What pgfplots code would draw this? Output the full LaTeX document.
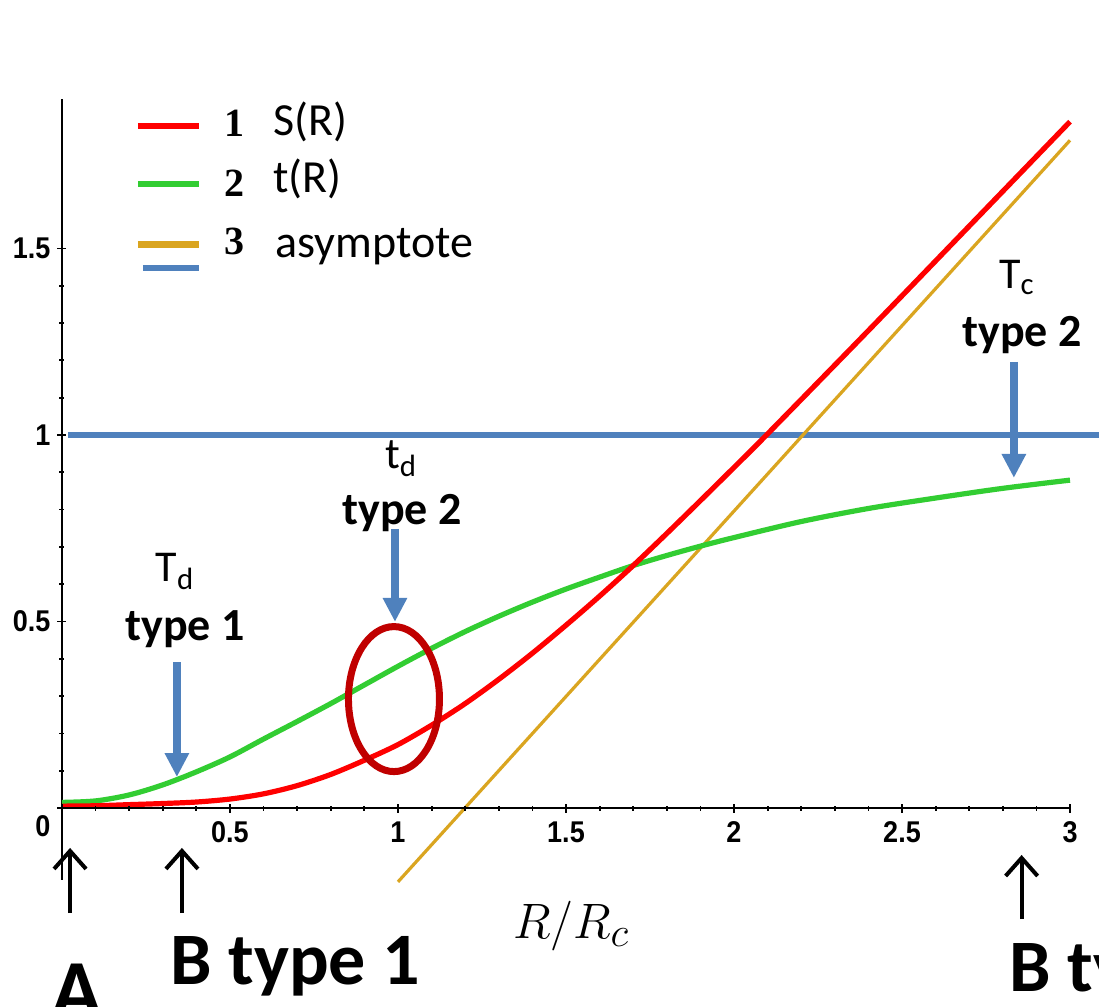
\documentclass[border=0pt]{standalone}
\usepackage{fontspec}
\setmainfont{Carlito}
\newfontfamily\tickfont[FakeStretch=0.9]{Liberation Sans}
\newfontfamily\numfont{Liberation Serif}
\usepackage{pgfplots}
\usepackage{pgfplotstable}
\pgfplotsset{compat=1.18}
\usetikzlibrary{arrows.meta}
\definecolor{cRed}{RGB}{255,0,0}
\definecolor{cGreen}{RGB}{50,205,50}
\definecolor{cGold}{RGB}{218,165,32}
\definecolor{cBlue}{RGB}{79,129,189}
\definecolor{cEll}{RGB}{192,0,0}

\pgfplotstableread{
x y
0.0 0.005
0.1 0.006
0.2 0.009
0.3 0.012
0.4 0.016
0.5 0.024
0.6 0.038
0.7 0.060
0.8 0.090
0.9 0.128
1.0 0.170
1.1 0.222
1.2 0.280
1.3 0.345
1.4 0.415
1.5 0.490
1.6 0.568
1.7 0.650
1.8 0.736
1.9 0.824
2.0 0.913
2.1 1.003
2.4 1.280
2.7 1.560
3.0 1.840
}\Sdata

\pgfplotstableread{
x y
0.0 0.015
0.1 0.019
0.2 0.035
0.3 0.062
0.4 0.097
0.5 0.137
0.6 0.185
0.7 0.232
0.8 0.280
0.9 0.330
1.0 0.380
1.1 0.428
1.2 0.473
1.3 0.514
1.4 0.552
1.5 0.587
1.6 0.619
1.7 0.650
1.8 0.677
1.9 0.702
2.0 0.725
2.2 0.768
2.4 0.803
2.6 0.831
2.8 0.857
3.0 0.879
}\Tdata

\pgfplotstableread{
x y
1.0 -0.198
3.0 1.790
}\Adata

\pgfplotstableread{
x y
0.018 1
3.12 1
}\Hdata

\pgfplotsset{
  mystyle/.style={
    scale only axis, width=504pt,
    xmin=0, xmax=3,
    clip=false,
    tick align=outside,
    major tick length=4.5pt, minor tick length=2.5pt,
    every tick/.style={black, line width=0.9pt},
    tick label style={font=\tickfont\bfseries\fontsize{15}{15}\selectfont},
    /pgf/number format/assume math mode=true,
  }
}

\begin{document}
\begin{tikzpicture}
\begin{axis}[
  mystyle, height=390.34pt,
  ymin=-0.193, ymax=1.9,
  axis y line=left, axis x line=none,
  axis line style={-, line width=1.1pt, black},
  ytick={0,0.5,1,1.5}, yticklabels={,0.5,1,1.5},
  extra y ticks={0}, extra y tick labels={0},
  extra y tick style={yticklabel style={yshift=-9pt}},
  minor y tick num=4,
]
\addplot[cBlue, line width=3pt] table {\Hdata};
\addplot[cGold, line width=1.6pt] table {\Adata};
\addplot[cGreen, line width=2.6pt, smooth] table {\Tdata};
\addplot[cRed, line width=2.6pt, smooth] table {\Sdata};

% legend
\draw[cRed, line width=3.3pt] (axis cs:0.226,1.828) -- (axis cs:0.408,1.828);
\draw[cGreen, line width=3.3pt] (axis cs:0.226,1.673) -- (axis cs:0.408,1.673);
\draw[cGold, line width=3.3pt] (axis cs:0.226,1.511) -- (axis cs:0.408,1.511);
\draw[cBlue, line width=3pt] (axis cs:0.241,1.448) -- (axis cs:0.408,1.448);
\node[anchor=base, inner sep=0, font=\numfont\bfseries\fontsize{20}{20}\selectfont] at (axis cs:0.512,1.799) {1};
\node[anchor=base, inner sep=0, font=\numfont\bfseries\fontsize{20}{20}\selectfont] at (axis cs:0.512,1.639) {2};
\node[anchor=base, inner sep=0, font=\numfont\bfseries\fontsize{20}{20}\selectfont] at (axis cs:0.512,1.483) {3};
\node[anchor=base west, inner sep=0, font=\fontsize{23}{23}\selectfont] at (axis cs:0.628,1.804) {S(R)};
\node[anchor=base west, inner sep=0, font=\fontsize{23}{23}\selectfont] at (axis cs:0.628,1.649) {t(R)};
\node[anchor=base west, inner sep=0, font=\fontsize{23}{23}\selectfont] at (axis cs:0.634,1.477) {asymptote};

% annotations
\node[anchor=base, inner sep=0, font=\fontsize{22}{22}\selectfont] at (axis cs:0.336,0.606) {T\textsubscript{d}};
\node[anchor=base, inner sep=0, font=\bfseries\fontsize{23}{23}\selectfont] at (axis cs:0.366,0.450) {type 1};
\node[anchor=base, inner sep=0, font=\fontsize{22}{22}\selectfont] at (axis cs:1.009,0.909) {t\textsubscript{d}};
\node[anchor=base, inner sep=0, font=\bfseries\fontsize{23}{23}\selectfont] at (axis cs:1.012,0.759) {type 2};
\node[anchor=base, inner sep=0, font=\fontsize{22}{22}\selectfont] at (axis cs:2.842,1.394) {T\textsubscript{c}};
\node[anchor=base, inner sep=0, font=\bfseries\fontsize{23}{23}\selectfont] at (axis cs:2.857,1.236) {type 2};

\draw[cBlue, line width=4pt, -{Triangle[width=11.5pt,length=12pt]}] (axis cs:0.342,0.391) -- (axis cs:0.342,0.083);
\draw[cBlue, line width=4pt, -{Triangle[width=11.5pt,length=12pt]}] (axis cs:0.991,0.748) -- (axis cs:0.991,0.499);
\draw[cBlue, line width=4pt, -{Triangle[width=11.5pt,length=12pt]}] (axis cs:2.833,1.196) -- (axis cs:2.833,0.885);

\draw[cEll, line width=3.5pt] (axis cs:0.988,0.292) ellipse [x radius=22.75pt, y radius=36.25pt];

\draw[black, line width=2pt, -{Straight Barb[length=9pt,width=16pt]}] (axis cs:0.024,-0.282) -- (axis cs:0.024,-0.107);
\draw[black, line width=2pt, -{Straight Barb[length=9pt,width=16pt]}] (axis cs:0.357,-0.282) -- (axis cs:0.357,-0.107);
\draw[black, line width=2pt, -{Straight Barb[length=9pt,width=16pt]}] (axis cs:2.856,-0.298) -- (axis cs:2.856,-0.126);

\node[anchor=base, inner sep=0, font=\bfseries\fontsize{42}{42}\selectfont] at (axis cs:0.045,-0.563) {A};
\node[anchor=base west, inner sep=0, font=\bfseries\fontsize{37}{37}\selectfont] at (axis cs:0.321,-0.4745) {B type 1};
\node[anchor=base west, inner sep=0, font=\bfseries\fontsize{37}{37}\selectfont] at (axis cs:2.818,-0.491) {B type 2};
\node[anchor=base, font=\fontsize{30}{36}\selectfont] at (axis cs:1.515,-0.351) {$R/R_c$};

\coordinate (orig) at (axis cs:0,0);
\coordinate (bbll) at (axis cs:-0.1845,-0.5335);
\coordinate (bbur) at (axis cs:3.0863,2.1662);
\end{axis}
\begin{axis}[
  mystyle, height=20pt,
  at={(orig)}, anchor=south west,
  ymin=0, ymax=1,
  axis x line=bottom, axis y line=none,
  axis line style={-, line width=1.1pt, black},
  xtick={0,0.5,1,1.5,2,2.5,3}, xticklabels={,0.5,1,1.5,2,2.5,3},
  minor x tick num=4,
  xticklabel style={yshift=-1pt},
]
\end{axis}
\pgfresetboundingbox
\path[use as bounding box] (bbll) rectangle (bbur);
\end{tikzpicture}
\end{document}
